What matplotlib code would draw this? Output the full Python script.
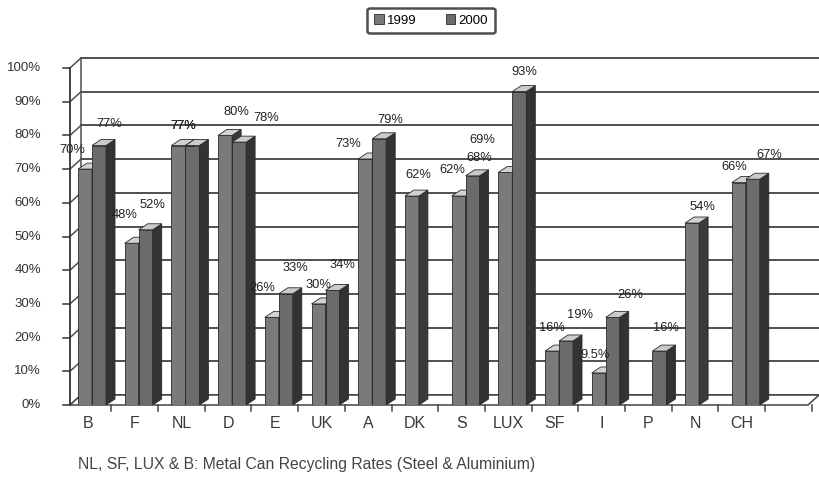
import numpy as np
import matplotlib.pyplot as plt
from matplotlib.patches import Polygon, Rectangle

plt.rcParams['font.family'] = ['Liberation Sans', 'DejaVu Sans']

countries = ['B', 'F', 'NL', 'D', 'E', 'UK', 'A', 'DK', 'S', 'LUX', 'SF', 'I', 'P', 'N', 'CH']
rate_1999 = [70, 48, 77, 80, 26, 30, 73, 62, 62, 69, 16, 9.5, np.nan, 54, 66]
rate_2000 = [77, 52, 77, 78, 33, 34, 79, np.nan, 68, 93, 19, 26, 16, np.nan, 67]
years = ['1999', '2000']
y_ticks = list(range(0, 101, 10))
note = 'NL, SF, LUX & B: Metal Can Recycling Rates (Steel & Aluminium)'

# label nudges in pixels (dx from bar face centre, dy above bar top)
nudge = {
    ('B', 0): (-13, 19), ('B', 1): (10, 22),
    ('F', 0): (-7, 28), ('F', 1): (7, 25),
    ('NL', 0): (5, 20), ('NL', 1): (-9, 20),
    ('D', 0): (11, 23), ('D', 1): (27, 24),
    ('E', 0): (-10, 29), ('E', 1): (10, 26),
    ('UK', 0): (0, 19), ('UK', 1): (10, 25),
    ('A', 0): (-17, 15), ('A', 1): (11, 19),
    ('DK', 0): (6, 21),
    ('S', 0): (-6, 26), ('S', 1): (7, 18),
    ('LUX', 0): (-23, 32), ('LUX', 1): (5, 20),
    ('SF', 0): (0, 23), ('SF', 1): (14, 26),
    ('I', 0): (-4, 18), ('I', 1): (18, 22),
    ('P', 1): (7, 23),
    ('N', 0): (10, 16),
    ('CH', 0): (-5, 16), ('CH', 1): (16, 24),
}

W, H = 820, 488
PX_CAT = 46.7          # pixels per category
PX_PCT = 3.37          # pixels per percent
ux = 1 / PX_CAT
uy = 1 / PX_PCT

fig = plt.figure(figsize=(8.2, 4.88), dpi=100, facecolor='white')
left_px, right_px, bot_px, top_px = 70, 805, 405, 68
ax = fig.add_axes([left_px / W, 1 - bot_px / H, (right_px - left_px) / W, (bot_px - top_px) / H])
x_lo = (left_px - 88) * ux
x_hi = (right_px - 88) * ux
ax.set_xlim(x_lo, x_hi)
ax.set_ylim(0, 100)
ax.axis('off')

# wall / floor depth
wdx, wdy = 11 * ux, 10 * uy
x_front_end = (808 - 88) * ux
edge = '#2a2a2a'
grid_col = '#505050'

# back wall gridlines and left wall diagonals
for v in y_ticks:
    ax.plot([x_lo + wdx, x_front_end + wdx], [v + wdy, v + wdy], color=grid_col, lw=1.4,
            clip_on=False, zorder=1)
    ax.plot([x_lo, x_lo + wdx], [v, v + wdy], color=grid_col, lw=1.1, clip_on=False, zorder=1)
    ax.plot([x_lo - 7 * ux, x_lo], [v, v], color='#333333', lw=1.1, clip_on=False, zorder=1)
    ax.text(x_lo - 29 * ux, v, f'{v}%', ha='right', va='center', fontsize=9.5, color='#333333')
ax.plot([x_lo, x_lo], [0, 100], color='#333333', lw=1.3, clip_on=False, zorder=1)
ax.plot([x_lo + wdx, x_lo + wdx], [wdy, 100 + wdy], color=grid_col, lw=1.1, clip_on=False, zorder=1)

# floor
floor = Polygon([(x_lo, 0), (x_front_end, 0), (x_front_end + wdx, wdy), (x_lo + wdx, wdy)],
                closed=True, facecolor='white', edgecolor='#444444', lw=1.1, clip_on=False, zorder=2)
ax.add_patch(floor)
for k in range(len(countries) + 1):
    xt = k + 0.5
    ax.plot([xt, xt], [0, -6 * uy], color='#444444', lw=1.1, clip_on=False, zorder=2)
for i, c in enumerate(countries):
    ax.text(i, -19 * uy, c, ha='center', va='center', fontsize=11.5, color='#3a3a3a')

# bars with a faked depth
bw = 14 * ux
bdx, bdy = 9 * ux, 6 * uy
front_cols = ['#7a7a7a', '#6b6b6b']
side_cols = ['#3a3a3a', '#333333']
top_cols = ['#d2d2d2', '#cacaca']
z = 3
for i, c in enumerate(countries):
    for j, series in enumerate([rate_1999, rate_2000]):
        v = series[i]
        if np.isnan(v):
            continue
        x0 = i - 10 * ux + j * bw
        ax.add_patch(Rectangle((x0, 0), bw, v, facecolor=front_cols[j], edgecolor=edge,
                               lw=0.6, zorder=z))
        ax.add_patch(Polygon([(x0 + bw, 0), (x0 + bw + bdx, bdy), (x0 + bw + bdx, v + bdy), (x0 + bw, v)],
                             closed=True, facecolor=side_cols[j], edgecolor=edge, lw=0.6, zorder=z))
        ax.add_patch(Polygon([(x0, v), (x0 + bw, v), (x0 + bw + bdx, v + bdy), (x0 + bdx, v + bdy)],
                             closed=True, facecolor=top_cols[j], edgecolor=edge, lw=0.6, zorder=z))
        z += 1
        ndx, ndy = nudge.get((c, j), (6, 21))
        ax.annotate(f'{v:g}%', (x0 + bw / 2, v), xytext=(ndx, ndy), textcoords='offset pixels',
                    ha='center', va='center', fontsize=9.3, color='#222222', zorder=100,
                    annotation_clip=False)

# legend
handles = [Rectangle((0, 0), 1, 1, facecolor=front_cols[k], edgecolor=edge, lw=0.6) for k in range(2)]
leg = fig.legend(handles, years, loc='center', bbox_to_anchor=(431 / W, 1 - 20.5 / H), ncol=2,
                 fontsize=9.5, frameon=True, fancybox=True, handlelength=0.75, handleheight=0.75,
                 handletextpad=0.25, columnspacing=2.2, borderpad=0.5, borderaxespad=0)
leg.get_frame().set_edgecolor('#222222')
leg.get_frame().set_linewidth(1.8)

fig.text(78 / W, 1 - 465 / H, note, ha='left', va='center', fontsize=11.3, color='#444444')

fig.savefig('out.png', dpi=100)
